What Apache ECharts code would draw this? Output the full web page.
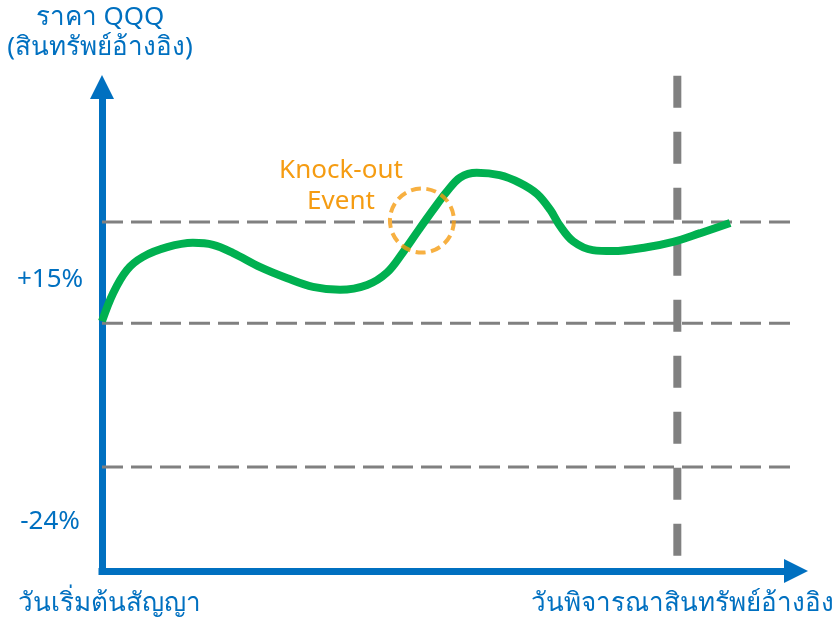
<!DOCTYPE html>
<html><head><meta charset="utf-8">
<script src="https://cdn.jsdelivr.net/npm/echarts@6/dist/echarts.min.js"></script>
<style>html,body{margin:0;padding:0;background:#fff}#c{width:836px;height:621px}</style>
</head><body><div id="c"></div>
<script>
// time axis 0..100 (contract start -> valuation date), price index 0..100
var pathX = [0, 1.6, 3.6, 5.9, 9.4, 13.1, 16.0, 18.9, 22.8, 26.7, 30.4, 34.3, 38.2, 41.1, 43.4, 45.5, 47.7, 49.7, 51.6, 54.0, 57.3, 60.2, 62.7, 64.6, 66.0, 67.9, 70.7, 73.6, 78.5, 82.3, 86.2, 90.5];
var pathY = [51.6, 57.4, 62.2, 64.9, 66.9, 67.8, 67.4, 65.7, 62.8, 60.5, 58.7, 58.1, 59.1, 61.7, 65.9, 70.2, 74.6, 78.4, 81.3, 82.3, 81.8, 80.2, 77.9, 74.6, 71.3, 68.1, 66.3, 66.1, 66.9, 68.0, 69.8, 71.9];
var levels = [72.1, 51.2, 21.5];          // knock-out, initial, barrier
var levelEnd = 101.7;
var valuationDay = 82.9;
var valuationSpan = [102.3, 3.1];
var knockOut = [46.1, 72.4];
var yLabels = ['+15%', '-24%'];
var yTitle = ['ราคา QQQ', '(สินทรัพย์อ้างอิง)'];
var xStartLabel = 'วันเริ่มต้นสัญญา';
var xEndLabel = 'วันพิจารณาสินทรัพย์อ้างอิง';
var koText = ['Knock-out', 'Event'];

var BLUE = '#0070c0', GREEN = '#00b050', GRAY = '#808080', ORANGE = '#f59c12';
var FONT = '"Noto Sans", "DejaVu Sans", sans-serif';

var chart = echarts.init(document.getElementById('c'));
var lineData = pathX.map(function (x, i) { return [x, pathY[i]]; });

var series = levels.map(function (v) {
  return {
    type: 'line', data: [[0, v], [levelEnd, v]], symbol: 'none', clip: false, silent: true, z: 1,
    lineStyle: { color: GRAY, width: 3, type: [21, 8] }
  };
});
series.push({
  type: 'line', data: [[valuationDay, valuationSpan[0]], [valuationDay, valuationSpan[1]]],
  symbol: 'none', clip: false, silent: true, z: 2,
  lineStyle: { color: GRAY, width: 8, type: [32, 24] }
});
series.push({
  type: 'line', data: lineData, smooth: 0.35, symbol: 'none', clip: false, z: 3,
  lineStyle: { color: GREEN, width: 8, cap: 'butt' }
});
series.push({
  type: 'scatter', data: [knockOut], symbol: 'circle', symbolSize: 64, z: 5, clip: false,
  itemStyle: { color: 'rgba(0,0,0,0)', borderColor: ORANGE, borderWidth: 4, borderType: [10, 5.5] }
});

function txt(x, y, s, color, align) {
  return { type: 'text', x: x, y: y, z: 10,
    style: { text: s, fill: color, font: '26px ' + FONT, align: align || 'center', verticalAlign: 'middle' } };
}

chart.setOption({
  animation: false,
  grid: { left: 102, top: 87, right: 40, bottom: 50 },
  xAxis: {
    type: 'value', min: 0, max: 100,
    splitLine: { show: false }, axisTick: { show: false }, axisLabel: { show: false },
    axisLine: { show: true, symbol: ['none', 'triangle'], symbolSize: [24, 24],
      lineStyle: { color: BLUE, width: 7, cap: 'square' } }
  },
  yAxis: {
    type: 'value', min: 0, max: 100,
    splitLine: { show: false }, axisTick: { show: false }, axisLabel: { show: false },
    axisLine: { show: true, symbol: ['none', 'triangle'], symbolSize: [24, 24],
      lineStyle: { color: BLUE, width: 7, cap: 'square' } }
  },
  series: series,
  graphic: [
    txt(100, 18, yTitle[0], BLUE),
    txt(100, 48, yTitle[1], BLUE),
    txt(50, 280, yLabels[0], BLUE),
    txt(50, 522, yLabels[1], BLUE),
    txt(18, 604, xStartLabel, BLUE, 'left'),
    txt(834, 604, xEndLabel, BLUE, 'right'),
    txt(341, 171, koText[0], ORANGE),
    txt(341, 202, koText[1], ORANGE)
  ]
});
</script></body></html>
